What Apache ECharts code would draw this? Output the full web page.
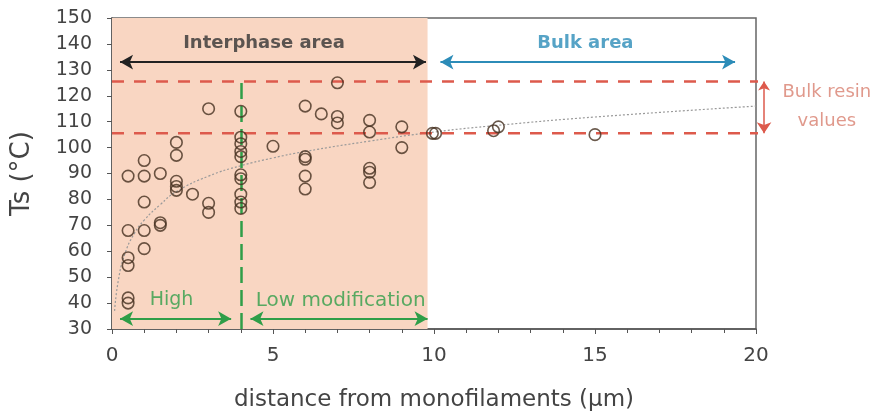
<!DOCTYPE html>
<html><head><meta charset="utf-8">
<script src="https://cdn.jsdelivr.net/npm/echarts@6/dist/echarts.min.js"></script>
<style>html,body{margin:0;padding:0;background:#fff}#c{width:878px;height:418px}</style>
</head><body><div id="c"></div>
<script>
// distance (µm) and Ts (°C) of measured points
const ptsX = [0.5,0.5,0.5,0.5,0.5,0.5, 1,1,1,1,1, 1.5,1.5,1.5, 2,2,2,2,2, 2.5, 3,3,3,
  4,4,4,4,4,4,4,4,4,4, 5, 6,6,6,6,6, 6.5, 7,7,7, 8,8,8,8,8, 9,9, 9.95,10.05, 11.85,12, 15];
const ptsY = [89,68,57.5,54.5,42,40, 95,89,79,68,61, 90,71,70, 102,97,87,85,83.5, 82, 115,78.5,75,
  114,104,101.5,98.5,96.5,89.5,88,82,79,76.5, 100.5, 116,96.5,95.5,89,84, 113, 125,112,109.5, 110.5,106,92,90.5,86.5, 108,100, 105.5,105.5, 106.5,108, 105];
// trend curve
const trendX = [0.08,0.2,0.4,0.7,1,1.5,2,3,4,5,6,8,10,12,15,20];
const trendY = [37,49,59,67,72,78,83,89,93,96,98.5,102.5,106,108.6,111.8,116];
// bulk resin band and annotation levels
const bulkHigh = 125.5, bulkLow = 105.5;
const arrowTopY = 133, arrowBottomY = 34;
const xTicks = [0,5,10,15,20];

const chart = echarts.init(document.getElementById('c'));
const red = '#dd5a4c', green = '#2f9e48', blue = '#2c8cb8';
const font = 'DejaVu Sans, sans-serif';
chart.setOption({
  animation:false,
  grid:{left:112,right:122,top:18,bottom:89,show:true,borderColor:'#666',borderWidth:1.5,backgroundColor:'transparent'},
  xAxis:{type:'value',min:0,max:20,interval:5,
    name:'distance from monofilaments (µm)',nameLocation:'middle',nameGap:60,
    nameTextStyle:{fontSize:23,color:'#444',fontFamily:font},
    axisLine:{lineStyle:{color:'#555',width:1.5}},
    axisTick:{show:true,length:5,lineStyle:{color:'#555'}},
    minorTick:{show:true,splitNumber:5,length:4,lineStyle:{color:'#555'}},
    splitLine:{show:false},
    axisLabel:{fontSize:20,color:'#444',fontFamily:font,margin:17,
      formatter:v=>xTicks.includes(v)?String(v):''}},
  yAxis:{type:'value',min:30,max:150,interval:10,
    name:'Ts (°C)',nameLocation:'middle',nameGap:77,nameRotate:90,
    nameTextStyle:{fontSize:26,color:'#444',fontFamily:font},
    axisLine:{show:true,lineStyle:{color:'#555',width:1.5}},
    axisTick:{show:true,length:5,lineStyle:{color:'#555'}},
    splitLine:{show:false},
    axisLabel:{fontSize:19,color:'#444',fontFamily:font,margin:20}},
  series:[
    {type:'line',name:'shade',data:[],silent:true,
      markArea:{silent:true,itemStyle:{color:'#f9d6c2'},data:[[{coord:[0,30]},{coord:[9.8,150]}]]}},
    {type:'line',name:'trend',data:trendX.map((x,i)=>[x,trendY[i]]),smooth:true,showSymbol:false,
      lineStyle:{color:'#9a9a9a',width:1.2,type:[2,2]},z:3},
    {type:'line',name:'bulkHigh',data:[[0,bulkHigh],[23.8,bulkHigh]],clip:false,showSymbol:false,z:4,silent:true,
      lineStyle:{color:red,width:2.5,type:[12,10]}},
    {type:'line',name:'bulkLow',data:[[0,bulkLow],[23.8,bulkLow]],clip:false,showSymbol:false,z:4,silent:true,
      lineStyle:{color:red,width:2.5,type:[12,10]}},
    {type:'lines',name:'bulkArrow',coordinateSystem:'cartesian2d',clip:false,z:5,silent:true,
      symbol:['arrow','arrow'],symbolSize:[9,11],
      lineStyle:{color:red,width:1.5,opacity:1},
      data:[{coords:[[20.25,bulkHigh],[20.25,bulkLow]]}]},
    {type:'line',name:'guides',data:[],z:4,silent:true,
      markLine:{silent:true,symbol:['none','none'],label:{show:false},
        data:[
          [{coord:[4,30],lineStyle:{color:green,width:2.5,type:[16,7]}},{coord:[4,bulkHigh]}]
        ]}},
    {type:'line',name:'arrows',data:[],z:5,silent:true,
      markLine:{silent:true,symbol:['arrow','arrow'],symbolSize:[11,13],label:{show:false},
        data:[
          [{coord:[0.25,arrowTopY],lineStyle:{color:'#222',width:2,type:'solid'},itemStyle:{color:'#222'}},{coord:[9.75,arrowTopY]}],
          [{coord:[10.2,arrowTopY],lineStyle:{color:blue,width:2,type:'solid'},itemStyle:{color:blue}},{coord:[19.35,arrowTopY]}],
          [{coord:[0.25,arrowBottomY],lineStyle:{color:green,width:2,type:'solid'},itemStyle:{color:green}},{coord:[3.7,arrowBottomY]}],
          [{coord:[4.3,arrowBottomY],lineStyle:{color:green,width:2,type:'solid'},itemStyle:{color:green}},{coord:[9.8,arrowBottomY]}]
        ]}},
    {type:'scatter',name:'Ts',data:ptsX.map((x,i)=>[x,ptsY[i]]),symbol:'circle',symbolSize:11.5,z:6,
      itemStyle:{color:'rgba(0,0,0,0)',borderColor:'#45301f',borderWidth:1.6}},
    {type:'scatter',name:'labels',clip:false,symbolSize:0,z:7,silent:true,
      label:{show:true,position:'inside',fontFamily:font},
      data:[
        {value:[4.72,140.4],label:{formatter:'Interphase area',fontSize:18,fontWeight:'bold',color:'#333'}},
        {value:[14.7,140.4],label:{formatter:'Bulk area',fontSize:18,fontWeight:'bold',color:blue}},
        {value:[1.85,41],label:{formatter:'High',fontSize:19,color:green}},
        {value:[7.1,41],label:{formatter:'Low modification',fontSize:20,color:green}},
        {value:[22.2,121.5],label:{formatter:'Bulk resin',fontSize:18,color:'#d8806f'}},
        {value:[22.2,110],label:{formatter:'values',fontSize:18,color:'#d8806f'}}
      ]}
  ]
});
</script></body></html>
